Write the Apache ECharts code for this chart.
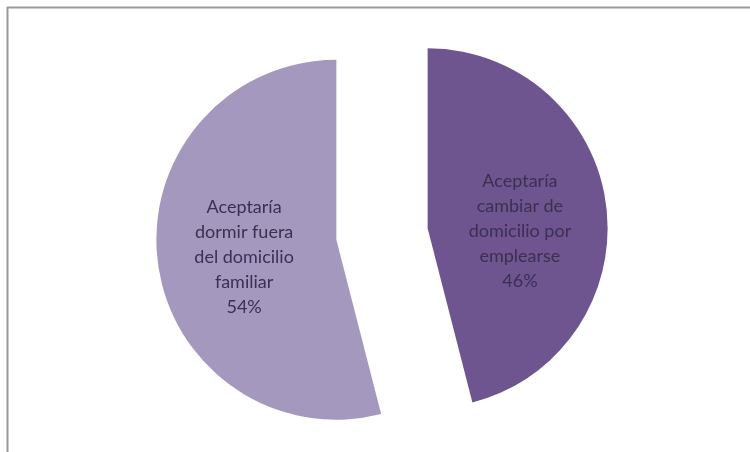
<!DOCTYPE html>
<html>
<head>
<meta charset="utf-8">
<script src="https://cdn.jsdelivr.net/npm/echarts@6/dist/echarts.min.js"></script>
<style>
html,body{margin:0;padding:0;background:#fff;}
#chart{width:750px;height:452px;}
</style>
</head>
<body>
<div id="chart"></div>
<script>
const categories = ["Aceptaría\ncambiar de\ndomicilio por\nemplearse", "Aceptaría\ndormir fuera\ndel domicilio\nfamiliar"];
const values = [46, 54];
const colors = ["#6E5590", "#A598BE"];
const spacerTag = ["a", "b"];

const chart = echarts.init(document.getElementById('chart'), null, {renderer: 'canvas'});
chart.setOption({
  animation: false,
  backgroundColor: '#ffffff',
  graphic: [
    {type: 'line', shape: {x1: 7, y1: 7.5, x2: 750, y2: 7.5}, style: {stroke: '#9a9a9a', lineWidth: 2}},
    {type: 'line', shape: {x1: 7.5, y1: 7, x2: 7.5, y2: 452}, style: {stroke: '#9a9a9a', lineWidth: 2}}
  ],
  series: [{
    type: 'pie',
    center: [382, 234],
    radius: [0, 180],
    startAngle: 90,
    clockwise: true,
    selectedMode: 'multiple',
    selectedOffset: 46,
    label: {
      show: true,
      position: 'inside',
      color: '#3a3050',
      fontFamily: 'Lato, "Open Sans", sans-serif',
      fontSize: 18,
      lineHeight: 25,
      align: 'center',
      rich: {
        a: {lineHeight: 30, fontSize: 1},
        b: {lineHeight: 12, fontSize: 1}
      },
      formatter: function (p) {
        return '{' + spacerTag[p.dataIndex] + '| }\n' + p.name + '\n' + p.value + '%';
      }
    },
    labelLine: {show: false},
    emphasis: {disabled: true},
    data: categories.map((c, i) => ({
      name: c, value: values[i], selected: true,
      itemStyle: {color: colors[i]},
      select: {itemStyle: {color: colors[i]}}
    }))
  }]
});
</script>
</body>
</html>
